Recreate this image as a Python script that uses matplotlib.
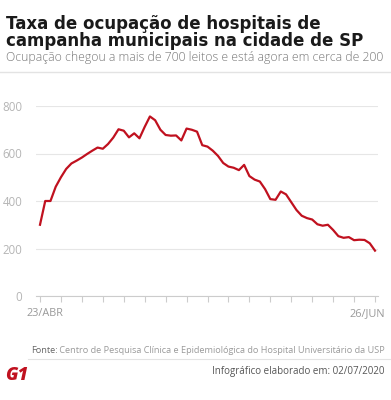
import numpy as np
import matplotlib
matplotlib.use("Agg")
import matplotlib.pyplot as plt
import matplotlib.dates as mdates
import matplotlib.transforms as mtransforms

# %%
# Data: beds occupied in municipal field hospitals, São Paulo (23/04 - 26/06)
start_date = np.datetime64("2020-04-23")
occupied = [
    300, 400, 400, 460, 500, 535, 558, 570, 583, 598,
    612, 625, 620, 640, 667, 702, 696, 668, 685, 664,
    712, 756, 740, 700, 678, 675, 676, 655, 705, 700,
    692, 635, 629, 612, 590, 560, 545, 540, 530, 552,
    505, 490, 482, 450, 408, 405, 440, 428, 395, 362,
    338, 328, 322, 302, 296, 300, 278, 252, 245, 248,
    235, 237, 236, 222, 191,
]
dates = start_date + np.arange(len(occupied))
y_ticks = [0, 200, 400, 600, 800]
first_label = "23/ABR"
last_label = "26/JUN"

title_lines = ["Taxa de ocupação de hospitais de", "campanha municipais na cidade de SP"]
subtitle = "Ocupação chegou a mais de 700 leitos e está agora em cerca de 200"
source_label = "Fonte:"
source_text = " Centro de Pesquisa Clínica e Epidemiológica do Hospital Universitário da USP"
credit = "Infográfico elaborado em: 02/07/2020"

RED = "#c0111f"
W, H = 391, 400

plt.rcParams["font.family"] = ["Open Sans", "DejaVu Sans"]

fig = plt.figure(figsize=(W / 100, H / 100), dpi=100)
fig.patch.set_facecolor("white")


def fx(px):
    return px / W


def fy(py):
    return 1 - py / H


# %%
# Header (wide geometric title face -> DejaVu Sans Bold is the closest match)
fig.text(fx(6), fy(29), title_lines[0], fontsize=12, fontweight="bold", family="DejaVu Sans",
         color="#1a1a1a", va="baseline")
fig.text(fx(6), fy(45.5), title_lines[1], fontsize=12, fontweight="bold", family="DejaVu Sans",
         color="#1a1a1a", va="baseline")
fig.text(fx(6), fy(61), subtitle, fontsize=8.8, fontweight="light", color="#777777", va="baseline")
fig.add_artist(plt.Line2D([0, 1], [fy(72), fy(72)], color="#e3e3e3", lw=1))

# %%
# Chart area
day0 = mdates.date2num(dates[0])
px_per_day = (375 - 40) / (len(occupied) - 1)
left_px, right_px = 36, 378
ax = fig.add_axes([fx(left_px), fy(296), (right_px - left_px) / W, 190 / H])
ax.plot(dates, occupied, color=RED, lw=1.6, solid_joinstyle="round", zorder=3)

ax.set_xlim(day0 - (40 - left_px) / px_per_day, day0 + (len(occupied) - 1) + (right_px - 375) / px_per_day)
ax.set_ylim(0, 800)
ax.set_yticks(y_ticks)
ax.set_yticklabels([str(v) for v in y_ticks], fontsize=8.3, color="#b5b5b5")
ax.tick_params(axis="y", length=0, pad=10)
ax.yaxis.grid(True, color="#e6e6e6", lw=0.8)
ax.set_axisbelow(True)

tick_days = dates[::4]
ax.set_xticks(mdates.date2num(tick_days))
labels = [""] * len(tick_days)
labels[0] = first_label
labels[-1] = last_label
ax.set_xticklabels(labels, fontsize=7.8, color="#999999")
ax.tick_params(axis="x", length=4, color="#cccccc", width=0.8, pad=5)

# the end labels sit a little inward from their ticks
tick_labels = ax.get_xticklabels()
tick_labels[0].set_transform(tick_labels[0].get_transform()
                             + mtransforms.ScaledTranslation(5 / 100, 0, fig.dpi_scale_trans))
tick_labels[-1].set_transform(tick_labels[-1].get_transform()
                              + mtransforms.ScaledTranslation(-8 / 100, 0, fig.dpi_scale_trans))

for side in ["top", "right", "left"]:
    ax.spines[side].set_visible(False)
ax.spines["bottom"].set_color("#cccccc")
ax.spines["bottom"].set_linewidth(0.8)
ax.spines["bottom"].set_zorder(2)

# %%
# Footer
src = fig.text(fx(385), fy(353), source_text, fontsize=6.6, color="#9a9a9a", ha="right", va="baseline")
fig.canvas.draw()
bb = src.get_window_extent()
fig.text(bb.x0 / fig.bbox.width, fy(353), source_label, fontsize=6.6, color="#666666", ha="right", va="baseline")
fig.add_artist(plt.Line2D([fx(28), 1], [fy(359), fy(359)], color="#e3e3e3", lw=0.8))
fig.text(fx(385), fy(374), credit, fontsize=7, color="#555555", ha="right", va="baseline")
fig.text(fx(5), fy(380), "G1", fontsize=13, fontweight="heavy", style="italic", color=RED, va="baseline")

fig.savefig("out.png", dpi=100, facecolor="white")
